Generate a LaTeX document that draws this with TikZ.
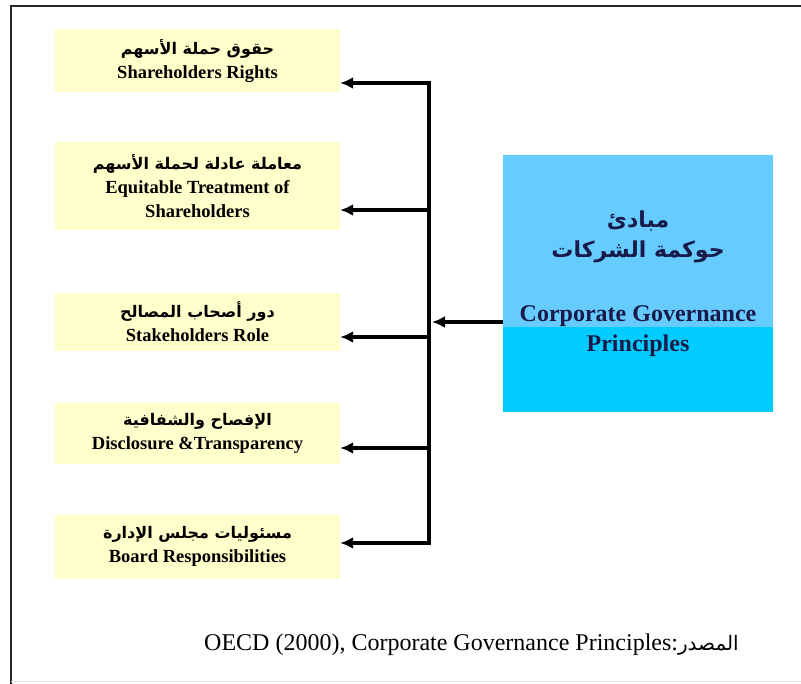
\documentclass[tikz,border=0pt]{standalone}
\usepackage{fontspec}
\setmainfont{Liberation Serif}
\newfontfamily\arabicfont[Script=Arabic]{DejaVu Sans}
\TeXXeTstate=1
\usetikzlibrary{arrows.meta,positioning}
\definecolor{boxyellow}{HTML}{FFFFCC}
\definecolor{cgtop}{HTML}{66CCFF}
\definecolor{cgbottom}{HTML}{00CCFF}
\definecolor{cgtext}{HTML}{1A1A4A}
\newcommand{\artxt}[1]{{\arabicfont\bfseries\beginR #1\endR}}

\begin{document}
\begin{tikzpicture}[x=1pt, y=-1pt,
      node distance=50pt,
      prin/.style={fill=boxyellow, minimum width=285pt, inner sep=2pt, align=center, font=\bfseries\fontsize{18.5}{24}\selectfont},
      cgbox/.style={fill=cgtop, minimum width=270pt, minimum height=257pt, align=center, text=cgtext, font=\bfseries\fontsize{24}{30}\selectfont,
        path picture={\fill[cgbottom] (path picture bounding box.south west) rectangle ([yshift=85pt]path picture bounding box.south east);}},
      arr/.style={line width=3.5pt, -{Latex[length=13pt,width=12pt]}}
    ]
    \useasboundingbox (0,0) rectangle (801,684);
    \draw[line width=2pt, black!85] (11,684) -- (11,6) -- (801,6);
    \draw[black!10] (11,681) -- (801,681);

    \node[prin, minimum height=63pt] (p1) at (197.5,60.5) {\artxt{\fontsize{16}{24}\selectfont حقوق حملة الأسهم}\\ Shareholders Rights};
    \node[prin, minimum height=88pt, below=50pt of p1] (p2) {\artxt{\fontsize{16}{24}\selectfont معاملة عادلة لحملة الأسهم}\\ Equitable Treatment of\\ Shareholders};
    \node[prin, minimum height=58pt, below=62pt of p2] (p3) {\artxt{\fontsize{16}{24}\selectfont دور أصحاب المصالح}\\ Stakeholders Role};
    \node[prin, minimum height=61pt, below=52pt of p3] (p4) {\artxt{\fontsize{16}{24}\selectfont الإفصاح والشفافية}\\ Disclosure \&Transparency};
    \node[prin, minimum height=64pt, below=50pt of p4] (p5) {\artxt{\fontsize{16}{24}\selectfont مسئوليات مجلس الإدارة}\\ Board Responsibilities};

    \node[cgbox] (cgp) at (638,283.5) {\artxt{\fontsize{22}{34}\selectfont مبادئ}\\ \artxt{\fontsize{22}{34}\selectfont حوكمة الشركات}\\[34pt] Corporate Governance\\ Principles};

    \foreach \i/\y in {1/83,2/210,3/337,4/448,5/543}{
      \coordinate (k\i) at (429,\y);
      \draw[arr] (k\i) -- (k\i -| p\i.east);
    }
    \draw[line width=3.5pt, line cap=rect] (k1) -- (k5);
    \coordinate (hub) at (432,322);
    \draw[arr] (cgp.west |- hub) -- (hub);

    \node[anchor=west, inner sep=0pt, font=\fontsize{24}{26}\selectfont] (src) at (204,645) {OECD (2000), Corporate Governance Principles:{\arabicfont\fontsize{20}{26}\selectfont\beginR المصدر\endR}};
  \end{tikzpicture}
\end{document}
